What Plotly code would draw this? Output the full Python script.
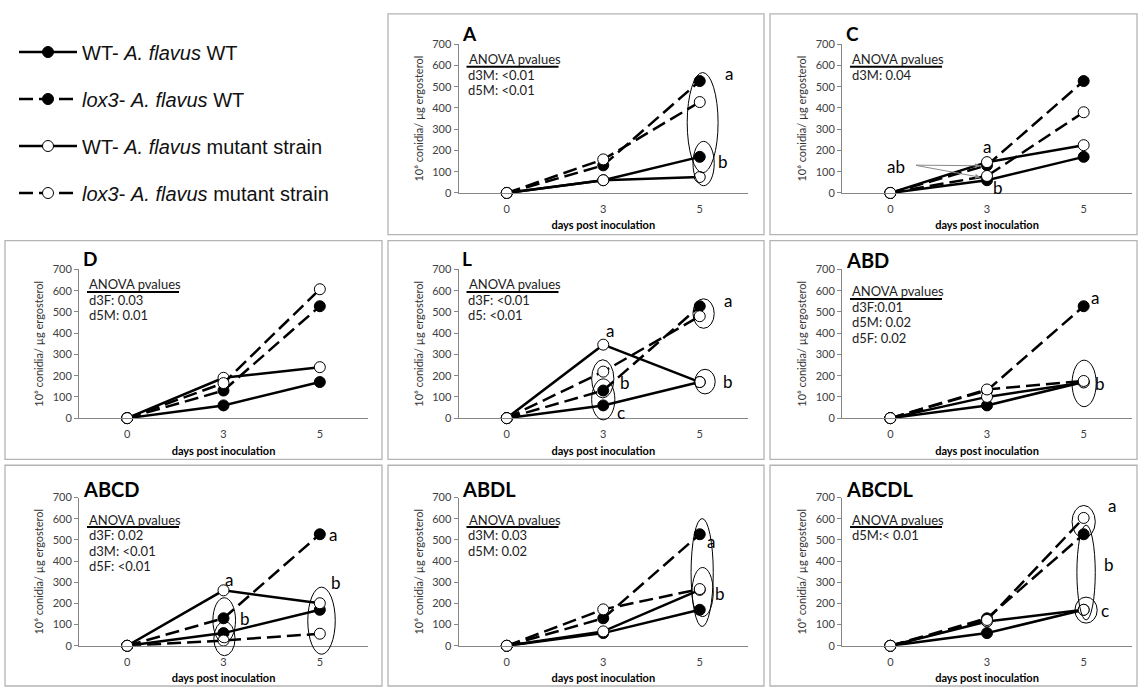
import plotly.graph_objects as go

W, H = 1139, 693

# ---------------- data ----------------
days = ["0", "3", "5"]

# control fungi (same in every panel)
wt_host_wt = [0, 60, 170]
lox3_host_wt = [0, 130, 527]

panel_names = ["A", "C", "D", "L", "ABD", "ABCD", "ABDL", "ABCDL"]

wt_host_mutant = {
    "A": [0, 60, 75], "C": [0, 145, 225], "D": [0, 190, 240], "L": [0, 346, 170],
    "ABD": [0, 100, 168], "ABCD": [0, 262, 201], "ABDL": [0, 68, 264], "ABCDL": [0, 115, 170],
}
lox3_host_mutant = {
    "A": [0, 158, 428], "C": [0, 80, 380], "D": [0, 165, 607], "L": [0, 219, 480],
    "ABD": [0, 135, 175], "ABCD": [0, 25, 57], "ABDL": [0, 172, 268], "ABCDL": [0, 122, 604],
}

anova_lines = {
    "A": ["d3M: <0.01", "d5M: <0.01"],
    "C": ["d3M: 0.04"],
    "D": ["d3F: 0.03", "d5M: 0.01"],
    "L": ["d3F: <0.01", "d5: <0.01"],
    "ABD": ["d3F:0.01", "d5M: 0.02", "d5F: 0.02"],
    "ABCD": ["d3F: 0.02", "d3M: <0.01", "d5F: <0.01"],
    "ABDL": ["d3M: 0.03", "d5M: 0.02"],
    "ABCDL": ["d5M:< 0.01"],
}

# significance letters: (text, category index, value)
sig_letters = {
    "A": [("a", 2.30, 561), ("b", 2.24, 148)],
    "C": [("a", 1.0, 218), ("b", 1.11, 25), ("ab", 0.06, 125)],
    "D": [],
    "L": [("a", 2.29, 552), ("b", 2.29, 171), ("a", 1.07, 411), ("b", 1.23, 168), ("c", 1.18, 25)],
    "ABD": [("a", 2.12, 567), ("b", 2.17, 162)],
    "ABCD": [("a", 1.06, 315), ("b", 1.22, 127), ("c", 1.10, -40), ("a", 2.14, 527), ("b", 2.17, 300)],
    "ABDL": [("a", 2.12, 493), ("b", 2.21, 246)],
    "ABCDL": [("a", 2.29, 663), ("b", 2.26, 385), ("c", 2.22, 168)],
}

# grouping ellipses: (x0, x1, y0, y1) in category index / value units
group_ellipses = {
    "A": [(1.87, 2.19, 95, 567), (1.93, 2.15, 34, 243)],
    "C": [],
    "D": [],
    "L": [(0.88, 1.11, 95, 275), (0.88, 1.12, -8, 185), (1.93, 2.15, 423, 562), (1.95, 2.16, 114, 230)],
    "ABD": [(1.88, 2.13, 54, 273)],
    "ABCD": [(0.89, 1.125, 14, 227), (0.90, 1.12, -47, 115), (1.875, 2.16, -40, 277)],
    "ABDL": [(1.91, 2.14, 91, 601), (1.92, 2.14, 138, 370)],
    "ABCDL": [(1.88, 2.12, 509, 663), (1.93, 2.12, 122, 570), (1.91, 2.14, 107, 230)],
}

# arrows in panel C: (tail x, tail y, head x, head y)
c_arrows = [(0.25, 131, 0.93, 128), (0.25, 131, 0.93, 74)]

series_labels = [
    "WT- <i>A. flavus</i> WT",
    "<i>lox3</i>- <i>A. flavus</i> WT",
    "WT- <i>A. flavus</i> mutant strain",
    "<i>lox3</i>- <i>A. flavus</i> mutant strain",
]

# ---------------- layout geometry ----------------
panel_cell = {"A": (1, 0), "C": (2, 0), "D": (0, 1), "L": (1, 1), "ABD": (2, 1),
              "ABCD": (0, 2), "ABDL": (1, 2), "ABCDL": (2, 2)}
col_px = [(79, 368), (458.5, 748), (842, 1132)]
row_px = [(38, 189.5), (267.5, 419), (500, 651)]
col_frame = [(5, 382), (388, 764), (770, 1137)]
row_frame = [(7, 232), (238, 461), (467, 692)]

FONT = "Lato"
AXC = "#868686"
dash_pat = "14px,6px"
styles = [
    dict(dash="solid", fill="black"),
    dict(dash=dash_pat, fill="black"),
    dict(dash="solid", fill="white"),
    dict(dash=dash_pat, fill="white"),
]

fig = go.Figure()
layout = dict(
    width=W, height=H, autosize=False,
    margin=dict(l=0, r=0, t=0, b=0),
    paper_bgcolor="white", plot_bgcolor="white",
    showlegend=True,
    legend=dict(
        x=14 / W, y=1 - 26 / H, xanchor="left", yanchor="top",
        font=dict(family="Liberation Sans", size=20, color="#111"),
        tracegroupgap=18, traceorder="grouped", itemwidth=58,
        bgcolor="rgba(0,0,0,0)",
    ),
)
shapes = []
annotations = []

for i, name in enumerate(panel_names):
    n = i + 1
    xa = "x" if n == 1 else f"x{n}"
    ya = "y" if n == 1 else f"y{n}"
    c, r = panel_cell[name]
    xd = [col_px[c][0] / W, col_px[c][1] / W]
    yd = [1 - row_px[r][1] / H, 1 - row_px[r][0] / H]

    series = [wt_host_wt, lox3_host_wt, wt_host_mutant[name], lox3_host_mutant[name]]
    for k, vals in enumerate(series):
        st = styles[k]
        fig.add_trace(go.Scatter(
            x=days, y=vals, xaxis=xa, yaxis=ya, mode="lines+markers",
            name=series_labels[k], legendgroup=f"s{k}", showlegend=(i == 0),
            line=dict(color="black", width=2.5, dash=st["dash"]),
            marker=dict(symbol="circle", size=11, color=st["fill"],
                        line=dict(color="black", width=1)),
            cliponaxis=False,
        ))

    layout["xaxis" if n == 1 else f"xaxis{n}"] = dict(
        domain=xd, anchor=ya, type="category", range=[-0.5, 2.5],
        showgrid=False, zeroline=False, showline=True, linecolor=AXC, linewidth=1,
        ticks="", ticklabelstandoff=6,
        tickfont=dict(family=FONT, size=11, color="#404040"),
        title=dict(text="days post inoculation", standoff=7,
                   font=dict(family=FONT, size=11, color="black", weight="bold")),
    )
    layout["yaxis" if n == 1 else f"yaxis{n}"] = dict(
        domain=yd, anchor=xa, range=[0, 700], dtick=100,
        showgrid=False, zeroline=False, showline=True, linecolor=AXC, linewidth=1,
        ticks="outside", ticklen=4, tickcolor=AXC,
        tickfont=dict(family=FONT, size=11, color="#404040"),
        title=dict(text="10⁶ conidia/ µg ergosterol", standoff=6,
                   font=dict(family=FONT, size=11, color="#333")),
    )

    xdom = f"{xa} domain"
    ydom = f"{ya} domain"

    # frame
    shapes.append(dict(type="rect", xref="paper", yref="paper",
                       x0=col_frame[c][0] / W, x1=col_frame[c][1] / W,
                       y0=1 - row_frame[r][1] / H, y1=1 - row_frame[r][0] / H,
                       line=dict(color="#b4b4b4", width=1.3), layer="below"))

    # panel title
    big = len(name) > 1
    annotations.append(dict(text=name, xref=xdom, yref=ydom, x=0, y=1,
                            xanchor="left", yanchor="middle", xshift=2, yshift=11 if not big else 9,
                            showarrow=False,
                            font=dict(family=FONT, size=20 if big else 19, color="black",
                                      weight="bold")))

    # ANOVA block
    top = 22 if big else 15
    step = 15.5
    annotations.append(dict(text="ANOVA pvalues", xref=xdom, yref=ydom, x=0, y=1,
                            xanchor="left", yanchor="middle", xshift=8, yshift=-top,
                            showarrow=False, font=dict(family=FONT, size=13, color="#222")))
    shapes.append(dict(type="line", xref=xdom, yref=ydom,
                       xsizemode="pixel", ysizemode="pixel", xanchor=0, yanchor=1,
                       x0=8, x1=100, y0=-(top + 7.5), y1=-(top + 7.5),
                       line=dict(color="black", width=2)))
    for j, t in enumerate(anova_lines[name]):
        annotations.append(dict(text=t, xref=xdom, yref=ydom, x=0, y=1,
                                xanchor="left", yanchor="middle", xshift=8,
                                yshift=-(top + step * (j + 1)),
                                showarrow=False, font=dict(family=FONT, size=13, color="#222")))

    # grouping ellipses
    for (ex0, ex1, ey0, ey1) in group_ellipses[name]:
        shapes.append(dict(type="circle", xref=xdom, yref=ydom,
                           x0=(ex0 + 0.5) / 3, x1=(ex1 + 0.5) / 3,
                           y0=ey0 / 700, y1=ey1 / 700,
                           line=dict(color="black", width=1), layer="above"))

    # letters
    for (t, lx, ly) in sig_letters[name]:
        annotations.append(dict(text=t, xref=xa, yref=ya, x=lx, y=ly,
                                xanchor="center", yanchor="middle", showarrow=False,
                                font=dict(family=FONT, size=17, color="black")))

    if name == "C":
        for (tx, ty, hx, hy) in c_arrows:
            annotations.append(dict(text=" ", xref=xa, yref=ya, x=hx, y=hy,
                                    axref=xa, ayref=ya, ax=tx, ay=ty,
                                    showarrow=True, arrowhead=2, arrowsize=1,
                                    arrowwidth=1, arrowcolor="#8a8a8a",
                                    font=dict(size=1)))

layout["shapes"] = shapes
layout["annotations"] = annotations
fig.update_layout(**layout)
fig.write_html("out.html", config={"displayModeBar": False},
               post_script="document.body.style.margin='0px';document.body.style.overflow='hidden';")
